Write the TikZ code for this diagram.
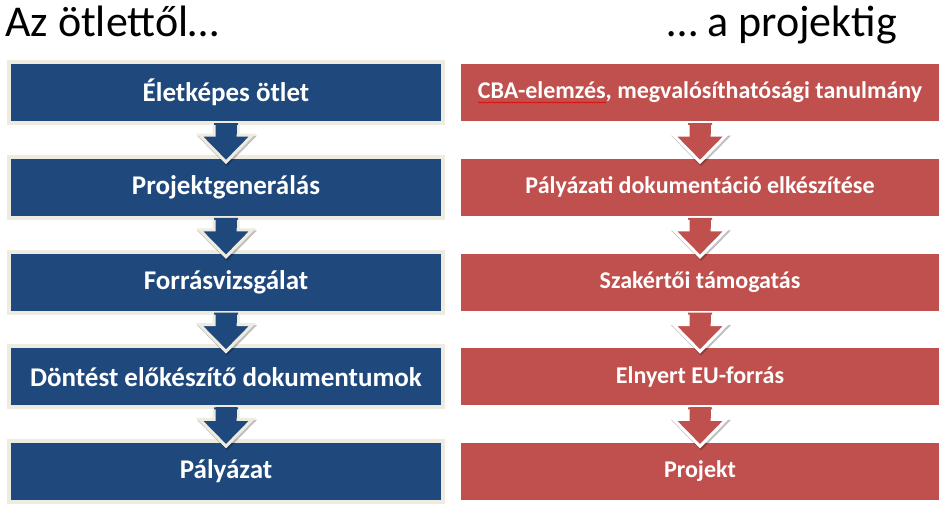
\documentclass[tikz,border=0pt]{standalone}
\usepackage{fontspec}
\setmainfont{Carlito}
\usetikzlibrary{shadows,calc,decorations.pathmorphing}
\definecolor{boxblue}{HTML}{1F497D}
\definecolor{boxred}{HTML}{C0504D}
\definecolor{beige}{HTML}{EEECE1}
\begin{document}
\begin{tikzpicture}[x=1pt,y=-1pt,
  boxbase/.style={line width=4pt,inner sep=0pt,minimum height=61pt,text=white,
    drop shadow={shadow xshift=1pt,shadow yshift=-2pt,opacity=0.35}},
  leftbox/.style={boxbase,draw=beige,fill=boxblue,minimum width=434pt,
    font=\fontsize{27}{31}\selectfont\bfseries},
  rightbox/.style={boxbase,draw=white,fill=boxred,minimum width=482pt,
    font=\fontsize{24}{28}\selectfont\bfseries},
  title/.style={inner sep=0pt,font=\fontsize{44}{50}\selectfont,text=black}
]
\useasboundingbox (0,0) rectangle (952,516);
\fill[white] (0,0) rectangle (952,516);

\node[title,anchor=base west] (t1) at (5,37) {Az ötlettől…};
\node[title,anchor=base east] (t2) at (897,37) {… a projektig};

\node[leftbox] (l1) at (226,92.5) {Életképes ötlet};
\node[leftbox] (l2) at (226,187.25) {Projektgenerálás};
\node[leftbox] (l3) at (226,282) {Forrásvizsgálat};
\node[leftbox] (l4) at (226,376.75) {Döntést előkészítő dokumentumok};
\node[leftbox] (l5) at (226,471.5) {Pályázat};

\node[rightbox] (r1) at (700,92.5) {CBA-elemzés, megvalósíthatósági tanulmány};
\node[rightbox] (r2) at (700,187.25) {Pályázati dokumentáció elkészítése};
\node[rightbox] (r3) at (700,282) {Szakértői támogatás};
\node[rightbox] (r4) at (700,376.75) {Elnyert EU-forrás};
\node[rightbox] (r5) at (700,471.5) {Projekt};

\draw[red!90!black,line width=0.5pt,decorate,decoration={snake,segment length=2.5pt,amplitude=0.6pt}]
  ($(r1.center)+(-222,10)$) -- ($(r1.center)+(-94,10)$);

\foreach \a/\fc/\dc in {l1/boxblue/beige,l2/boxblue/beige,l3/boxblue/beige,l4/boxblue/beige,
                        r1/boxred/white,r2/boxred/white,r3/boxred/white,r4/boxred/white}{
  \draw[black,opacity=0.25,line width=3pt,line join=miter]
    ($(\a.south)+(-11,2)$) -- ($(\a.south)+(-11,12)$) -- ($(\a.south)+(-25.5,12)$)
    -- ($(\a.south)+(1,39)$) -- ($(\a.south)+(27.5,12)$) -- ($(\a.south)+(13,12)$);
  \fill[\fc] ($(\a.south)+(-12,-2)$) -- ($(\a.south)+(-12,10)$) -- ($(\a.south)+(-26.5,10)$)
    -- ($(\a.south)+(0,37)$) -- ($(\a.south)+(26.5,10)$) -- ($(\a.south)+(12,10)$)
    -- ($(\a.south)+(12,-2)$) -- cycle;
  \draw[\dc,line width=3pt,line join=miter]
    ($(\a.south)+(-12,0)$) -- ($(\a.south)+(-12,10)$) -- ($(\a.south)+(-26.5,10)$)
    -- ($(\a.south)+(0,37)$) -- ($(\a.south)+(26.5,10)$) -- ($(\a.south)+(12,10)$)
    -- ($(\a.south)+(12,0)$);
  \fill[\fc] ($(\a.south)+(-10.5,-2)$) rectangle ($(\a.south)+(10.5,8.5)$);
}
\end{tikzpicture}
\end{document}
